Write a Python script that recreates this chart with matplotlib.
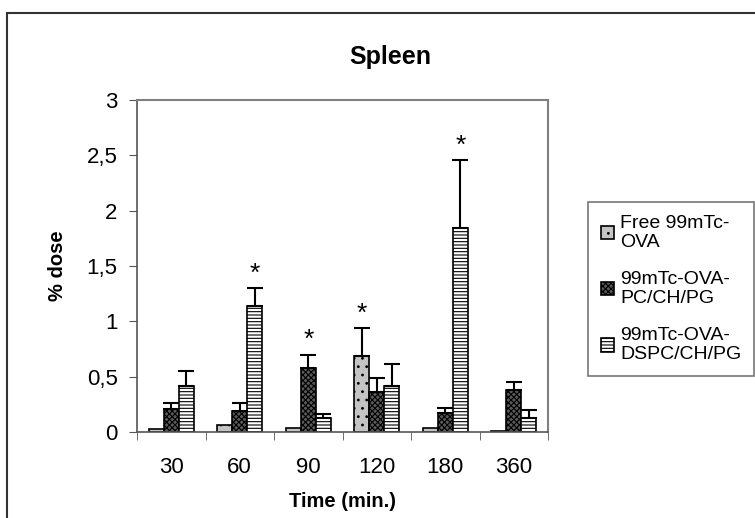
import numpy as np
import matplotlib.pyplot as plt
from matplotlib.patches import Rectangle

plt.rcParams['font.family'] = ['Liberation Sans', 'DejaVu Sans']
plt.rcParams['hatch.linewidth'] = 0.8

times = ['30', '60', '90', '120', '180', '360']
labels = ['Free 99mTc-\nOVA', '99mTc-OVA-\nPC/CH/PG', '99mTc-OVA-\nDSPC/CH/PG']
free_ova = [0.03, 0.06, 0.04, 0.69, 0.04, 0.01]
free_err = [0.0, 0.0, 0.0, 0.25, 0.0, 0.0]
pc_ch_pg = [0.21, 0.19, 0.58, 0.36, 0.17, 0.38]
pc_err = [0.05, 0.07, 0.12, 0.13, 0.05, 0.07]
dspc_ch_pg = [0.42, 1.14, 0.13, 0.42, 1.84, 0.13]
dspc_err = [0.13, 0.16, 0.03, 0.19, 0.62, 0.07]
# which bars carry a star (series index per time point, None = no star)
stars = [None, 2, 1, 0, 2, None]

fig = plt.figure(figsize=(7.55, 5.18), dpi=100)
ax = fig.add_axes([137/755, 1 - 432/518, 411/755, 332/518])

x = np.arange(len(times))
w = 0.22
series = [free_ova, pc_ch_pg, dspc_ch_pg]
errs = [free_err, pc_err, dspc_err]
faces = ['#c4c4c4', '#5a5a5a', 'white']
hatches = ['..', 'xxxxxx', '-----']

bars = []
for i in range(3):
    pos = x + (i - 1) * w
    b = ax.bar(pos, series[i], w, color=faces[i], edgecolor='black', hatch=hatches[i],
               linewidth=1.2, label=labels[i])
    bars.append(b)
    e = np.array(errs[i])
    m = e > 0
    ax.errorbar(pos[m], np.array(series[i])[m], yerr=[np.zeros(m.sum()), e[m]],
                fmt='none', ecolor='black', elinewidth=1.5, capsize=6, capthick=1.5)

for j, s in enumerate(stars):
    if s is None:
        continue
    top = series[s][j] + errs[s][j]
    ax.text(x[j] + (s - 1) * w, top + 0.02, '*', ha='center', va='bottom', fontsize=19)

ax.set_xlim(-0.5, len(times) - 0.5)
ax.set_ylim(0, 3)
ax.set_yticks([0, 0.5, 1, 1.5, 2, 2.5, 3])
ax.set_yticklabels(['0', '0,5', '1', '1,5', '2', '2,5', '3'], fontsize=16)
ax.set_xticks(x)
ax.set_xticklabels(times, fontsize=16)
ax.set_xticks(np.arange(-0.5, len(times)), minor=True)
ax.tick_params(axis='x', which='major', length=0, pad=18)
ax.tick_params(axis='x', which='minor', length=6, direction='out', color='#555555')
ax.tick_params(axis='y', length=6, direction='out', color='#555555', pad=8)

for sp in ['top', 'right']:
    ax.spines[sp].set_color('#808080')
    ax.spines[sp].set_linewidth(1.5)
for sp in ['left', 'bottom']:
    ax.spines[sp].set_color('#555555')
    ax.spines[sp].set_linewidth(1.2)

ax.set_xlabel('Time (min.)', fontsize=14.5, fontweight='bold', labelpad=10)
ax.set_ylabel('% dose', fontsize=14.5, fontweight='bold', labelpad=14)
fig.text(390/755, 1 - 57/518, 'Spleen', fontsize=18, fontweight='bold',
         ha='center', va='center')

leg = fig.legend(handles=bars, labels=labels, loc='upper left',
                 bbox_to_anchor=(588/755, 1 - 202/518), fontsize=14,
                 frameon=True, fancybox=False, edgecolor='#555555',
                 handlelength=0.7, handleheight=0.7, handletextpad=0.3,
                 labelspacing=1.0, borderpad=0.65, borderaxespad=0)
leg.get_frame().set_linewidth(1.2)

# outer chart border
fig.patches.append(Rectangle((7/755, -0.1), 1.2, 1 - 13/518 + 0.1, transform=fig.transFigure,
                             fill=False, edgecolor='#333333', linewidth=1.5))

fig.savefig('out.png', dpi=100)
